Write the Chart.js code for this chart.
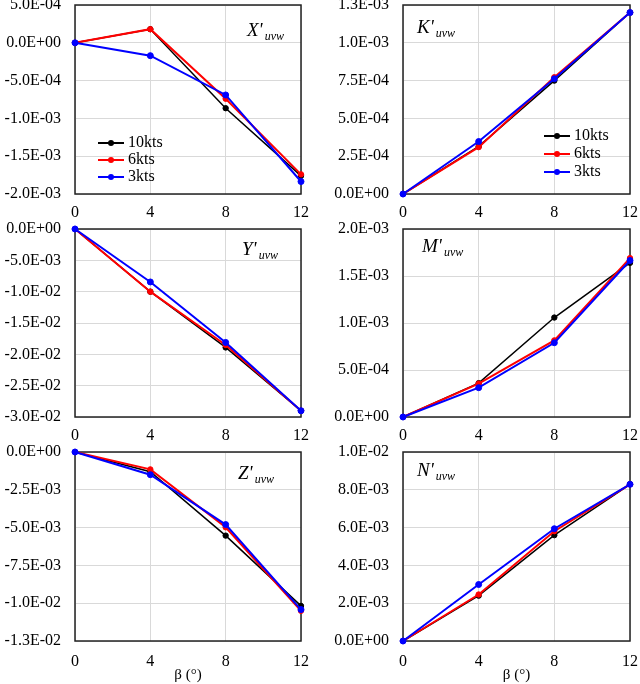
<!DOCTYPE html>
<html>
<head>
<meta charset="utf-8">
<script src="https://cdn.jsdelivr.net/npm/chart.js@4.4.0/dist/chart.umd.min.js"></script>
<style>
body{margin:0;background:#fff;}
#wrap{position:relative;width:640px;height:684px;overflow:hidden;}
canvas{position:absolute;}
</style>
</head>
<body>
<div id="wrap">
  <canvas id="cX" width="320" height="224" style="left:0;top:0"></canvas>
  <canvas id="cK" width="320" height="224" style="left:320px;top:0"></canvas>
  <canvas id="cY" width="320" height="228" style="left:0;top:219px"></canvas>
  <canvas id="cM" width="320" height="228" style="left:320px;top:219px"></canvas>
  <canvas id="cZ" width="320" height="242" style="left:0;top:442px"></canvas>
  <canvas id="cN" width="320" height="242" style="left:320px;top:442px"></canvas>
</div>
<script>
// data
const beta = [0, 4, 8, 12];
const speeds = ['10kts', '6kts', '3kts'];
const colors = ['#000000', '#ff0000', '#0000ff'];

const X10 = [0, 1.8e-4, -8.65e-4, -1.76e-3];
const X6  = [0, 1.8e-4, -7.4e-4, -1.74e-3];
const X3  = [0, -1.7e-4, -6.9e-4, -1.835e-3];

const K10 = [0, 3.15e-4, 7.5e-4, 1.2e-3];
const K6  = [0, 3.1e-4, 7.72e-4, 1.2e-3];
const K3  = [0, 3.47e-4, 7.62e-4, 1.2e-3];

const Y10 = [0, -1.0e-2, -1.89e-2, -2.9e-2];
const Y6  = [0, -1.0e-2, -1.85e-2, -2.9e-2];
const Y3  = [0, -8.45e-3, -1.81e-2, -2.9e-2];

const M10 = [0, 3.6e-4, 1.058e-3, 1.64e-3];
const M6  = [0, 3.55e-4, 8.15e-4, 1.69e-3];
const M3  = [0, 3.12e-4, 7.9e-4, 1.665e-3];

const Z10 = [0, -1.3e-3, -5.53e-3, -1.018e-2];
const Z6  = [0, -1.15e-3, -4.98e-3, -1.05e-2];
const Z3  = [0, -1.5e-3, -4.8e-3, -1.042e-2];

const N10 = [0, 2.4e-3, 5.6e-3, 8.29e-3];
const N6  = [0, 2.46e-3, 5.81e-3, 8.29e-3];
const N3  = [0, 2.99e-3, 5.94e-3, 8.29e-3];

// y axis ranges [min, max, step]
const rangeX = [-2e-3, 5e-4, 5e-4];
const rangeK = [0, 1.25e-3, 2.5e-4];
const rangeY = [-3e-2, 0, 5e-3];
const rangeM = [0, 2e-3, 5e-4];
const rangeZ = [-1.25e-2, 0, 2.5e-3];
const rangeN = [0, 1e-2, 2e-3];

const xTitle = 'β (°)';

Chart.defaults.font.family = '"Liberation Serif", "Times New Roman", serif';
Chart.defaults.font.size = 16;
Chart.defaults.color = '#000';

function sci(v){
    if(Math.abs(v) < 1e-12) return '0.0E+00';
    let sign = v < 0 ? '-' : '';
    let a = Math.abs(v);
    let e = Math.floor(Math.log10(a));
    let m = Math.round(a / Math.pow(10, e) * 10 + 1e-6) / 10;
    if(m >= 10){ m = m / 10; e += 1; }
    return sign + m.toFixed(1) + 'E' + (e < 0 ? '-' : '+') + String(Math.abs(e)).padStart(2, '0');
}

// box round the plot area
const frame = {
    id: 'frame',
    beforeDatasetsDraw(chart){
        const a = chart.chartArea, ctx = chart.ctx;
        ctx.save();
        ctx.strokeStyle = '#222';
        ctx.lineWidth = 1.5;
        ctx.strokeRect(a.left, a.top, a.right - a.left, a.bottom - a.top);
        ctx.restore();
    }
};

// X'uvw style tag
const panelTag = {
    id: 'panelTag',
    afterDraw(chart, args, o){
        if(!o.main) return;
        const a = chart.chartArea, ctx = chart.ctx;
        let x = a.left + o.dx, y = a.top + o.dy;
        ctx.save();
        ctx.fillStyle = '#000';
        ctx.textBaseline = 'middle';
        ctx.font = 'italic 19px "Liberation Serif"';
        ctx.fillText(o.main, x, y);
        let w = ctx.measureText(o.main).width;
        ctx.font = 'italic 12px "Liberation Serif"';
        ctx.fillText(o.sub, x + w + 2, y + 6);
        ctx.restore();
    }
};

// excel style legend: line with marker
const lineLegend = {
    id: 'lineLegend',
    afterDraw(chart, args, o){
        if(!o.show) return;
        const a = chart.chartArea, ctx = chart.ctx;
        ctx.save();
        chart.data.datasets.forEach((ds, i) => {
            let x = a.left + o.dx, y = a.top + o.dy + i * o.gap;
            ctx.strokeStyle = ds.borderColor;
            ctx.lineWidth = 2;
            ctx.beginPath(); ctx.moveTo(x, y); ctx.lineTo(x + 26, y); ctx.stroke();
            ctx.fillStyle = ds.borderColor;
            ctx.beginPath(); ctx.arc(x + 13, y, 3, 0, Math.PI * 2); ctx.fill();
            ctx.fillStyle = '#000';
            ctx.textBaseline = 'middle';
            ctx.font = '16px "Liberation Serif"';
            ctx.fillText(ds.label, x + 30, y);
        });
        ctx.restore();
    }
};

function makePanel(id, series, range, yw, padR, padT, xh, tag, legend, withTitle){
    const datasets = series.map((vals, i) => ({
        label: speeds[i],
        data: beta.map((b, j) => ({x: b, y: vals[j]})),
        borderColor: colors[i],
        backgroundColor: colors[i],
        pointBackgroundColor: colors[i],
        pointBorderColor: colors[i],
        borderWidth: i == 0 ? 1.5 : 2,
        pointRadius: i == 2 ? 3 : 2.7,
        pointBorderWidth: 1,
        order: 3 - i,
        clip: false
    }));
    new Chart(document.getElementById(id), {
        type: 'line',
        data: {datasets: datasets},
        options: {
            responsive: false,
            animation: false,
            layout: {padding: {left: 0, right: padR, top: padT, bottom: 0}},
            scales: {
                x: {
                    type: 'linear', min: 0, max: 12,
                    ticks: {stepSize: 4, padding: withTitle ? 11 : 9},
                    grid: {color: '#d9d9d9', drawTicks: false},
                    border: {display: false},
                    title: {display: withTitle, text: xTitle, font: {size: 15}, padding: {top: 0, bottom: 0}},
                    afterFit: s => { s.height = xh; s.paddingLeft = 0; s.paddingRight = 0; }
                },
                y: {
                    min: range[0], max: range[1],
                    ticks: {stepSize: range[2], padding: 14, callback: v => sci(v)},
                    grid: {color: '#d9d9d9', drawTicks: false},
                    border: {display: false},
                    afterFit: s => { s.width = yw; s.paddingTop = 0; s.paddingBottom = 0; }
                }
            },
            plugins: {
                legend: {display: false},
                tooltip: {enabled: false},
                panelTag: tag,
                lineLegend: legend
            }
        },
        plugins: [frame, panelTag, lineLegend]
    });
}

const noLegend = {show: false};

makePanel('cX', [X10, X6, X3], rangeX, 75, 19, 5, 30,
    {main: "X'", sub: 'uvw', dx: 172, dy: 26}, {show: true, dx: 23, dy: 138, gap: 17}, false);
makePanel('cK', [K10, K6, K3], rangeK, 83, 10, 5, 30,
    {main: "K'", sub: 'uvw', dx: 14, dy: 23}, {show: true, dx: 141, dy: 131, gap: 18}, false);
makePanel('cY', [Y10, Y6, Y3], rangeY, 75, 19, 10, 30,
    {main: "Y'", sub: 'uvw', dx: 167, dy: 21}, noLegend, false);
makePanel('cM', [M10, M6, M3], rangeM, 83, 10, 10, 30,
    {main: "M'", sub: 'uvw', dx: 19, dy: 18}, noLegend, false);
makePanel('cZ', [Z10, Z6, Z3], rangeZ, 75, 19, 10, 43,
    {main: "Z'", sub: 'uvw', dx: 163, dy: 22}, noLegend, true);
makePanel('cN', [N10, N6, N3], rangeN, 83, 10, 10, 43,
    {main: "N'", sub: 'uvw', dx: 14, dy: 19}, noLegend, true);
</script>
</body>
</html>
